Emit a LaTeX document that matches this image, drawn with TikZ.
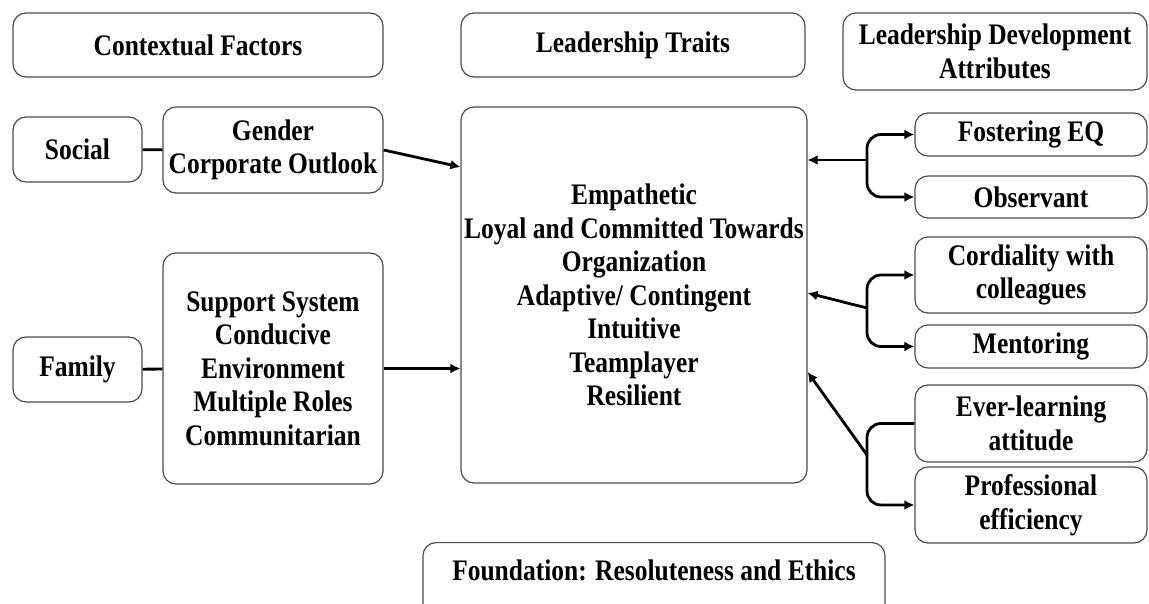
\documentclass[tikz,border=0pt]{standalone}
\usepackage{fontspec}
\setmainfont{Liberation Serif}[FakeStretch=0.855]
\usetikzlibrary{arrows.meta}
\begin{document}
\begin{tikzpicture}[x=1pt,y=-1pt,
  labelfont/.style={font=\fontsize{29.8}{33.5}\selectfont\bfseries},
  box/.style={draw=black!70, line width=1.2pt, rounded corners=13pt, align=center,
    labelfont, inner sep=0pt},
  link/.style={line width=2.8pt, black},
  arr/.style={link, -{Latex[length=10pt,width=10pt]}},
  roundjoin/.style={rounded corners=14pt}]
\useasboundingbox (0,0) rectangle (1149,604);
\begin{scope}
\clip (0,0) rectangle (1149,604);
% column headings
\node[box, minimum width=370, minimum height=64] (ctx) at (198,45) {Contextual Factors};
\node[box, minimum width=344, minimum height=64] (traits) at (633,45) {Leadership Traits};
\node[box, minimum width=304, minimum height=77] (lda) at (995,51.5) {Leadership Development\\Attributes};
% contextual factors
\node[box, minimum width=129, minimum height=65] (social) at (77.5,149.5) {Social};
\node[box, minimum width=220, minimum height=86] (gender) at (273,150) {Gender\\Corporate Outlook};
\node[box, minimum width=129, minimum height=65] (family) at (77.5,369.5) {Family};
\node[box, minimum width=220, minimum height=231] (support) at (273,368.5)
  {Support System\\Conducive\\Environment\\Multiple Roles\\Communitarian};
% leadership traits
\node[box, minimum width=346, minimum height=376] (core) at (634,295)
  {Empathetic\\Loyal and Committed Towards\\Organization\\Adaptive/ Contingent\\Intuitive\\Teamplayer\\Resilient};
% development attributes
\node[box, minimum width=232, minimum height=43] (eq) at (1031,134.5) {Fostering EQ};
\node[box, minimum width=232, minimum height=42] (obs) at (1031,197) {Observant};
\node[box, minimum width=232, minimum height=76] (cord) at (1031,275) {Cordiality with\\colleagues};
\node[box, minimum width=232, minimum height=43] (ment) at (1031,346.5) {Mentoring};
\node[box, minimum width=232, minimum height=77] (ever) at (1031,423.5) {Ever-learning\\attitude};
\node[box, minimum width=232, minimum height=76] (prof) at (1031,505) {Professional\\efficiency};
% foundation
\node[box, minimum width=462, minimum height=100, anchor=north] (found) at (654,542) {};
\node[labelfont] (foundtext) at (654,570) {Foundation: Resoluteness and Ethics};
\end{scope}
% connectors on the left
\draw[link] (social) -- (gender);
\draw[link] (family) -- (support);
\draw[arr] (gender.east) -- ([yshift=128pt]core.west);
\draw[arr] (support.east) -- (core.west |- support.east);
% bracket junctions
\coordinate (j1) at (867,160);
\coordinate (j2) at (867,308);
\coordinate (j3) at (867,455);
\draw[arr, roundjoin] (j1) |- (eq.west);
\draw[arr, roundjoin] (j1) |- (obs.west);
\draw[arr] (j1) -- (core.east |- j1);
\draw[arr, roundjoin] (j2) |- (cord.west);
\draw[arr, roundjoin] (j2) |- (ment.west);
\draw[arr] (j2) -- ([yshift=2pt]core.east);
\draw[link, roundjoin] (j3) |- (ever.west);
\draw[arr, roundjoin] (j3) |- (prof.west);
\draw[arr] (j3) -- ([yshift=-77pt]core.east);
\end{tikzpicture}
\end{document}
